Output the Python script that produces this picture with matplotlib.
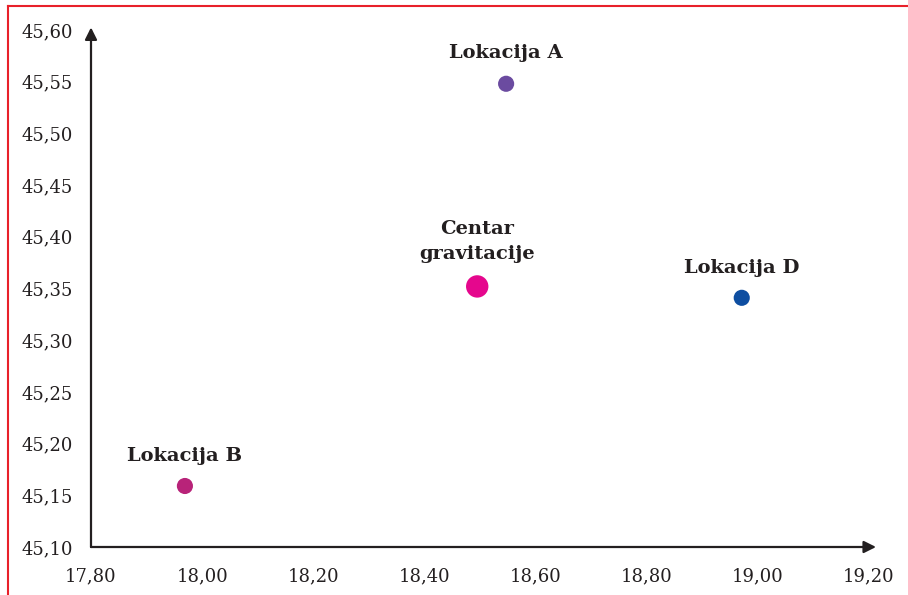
import matplotlib.pyplot as plt
from matplotlib.lines import Line2D
from matplotlib.ticker import FuncFormatter, MultipleLocator

# lokacije (geografska dužina, širina)
names = ["Lokacija A", "Lokacija B", "Lokacija D", "Centar\ngravitacije"]
lon = [18.547, 17.969, 18.971, 18.495]
lat = [45.548, 45.159, 45.341, 45.352]
colors = ["#6B4BA0", "#B82379", "#0E4EA1", "#E5078D"]
sizes = [135, 135, 135, 260]
label_offset = [22.5, 21.5, 21.5, 32]

plt.rcParams['font.family'] = ['DejaVu Serif']

fig = plt.figure(figsize=(9.08, 5.95), dpi=100)
ax = fig.add_axes([91 / 908, 48 / 595, 778 / 908, 517 / 595])

for x, y, c, s, n, off in zip(lon, lat, colors, sizes, names, label_offset):
    ax.scatter(x, y, s=s, color=c, edgecolors='none', zorder=3)
    ax.annotate(n, (x, y), xytext=(0, off), textcoords='offset points',
                ha='center', va='center', fontsize=14, fontweight='bold',
                color='#231F20', linespacing=1.5)

ax.set_xlim(17.8, 19.2)
ax.set_ylim(45.1, 45.6)
ax.xaxis.set_major_locator(MultipleLocator(0.2))
ax.yaxis.set_major_locator(MultipleLocator(0.05))
ax.xaxis.set_major_formatter(FuncFormatter(lambda v, p: f"{v:.2f}".replace('.', ',')))
ax.yaxis.set_major_formatter(FuncFormatter(lambda v, p: f"{v:.2f}".replace('.', ',')))
ax.tick_params(axis='both', length=0, labelsize=13, colors='#231F20')
ax.tick_params(axis='x', pad=15)
ax.tick_params(axis='y', pad=13)

for sp in ax.spines.values():
    sp.set_visible(False)

# osi sa strelicama
arrow = dict(arrowstyle='-|>', color='#231F20', lw=1.6, mutation_scale=18,
             shrinkA=0, shrinkB=0)
ax.annotate('', xy=(1.009, 0), xytext=(0, 0), xycoords='axes fraction',
            arrowprops=arrow, annotation_clip=False)
ax.annotate('', xy=(0, 1.005), xytext=(0, 0), xycoords='axes fraction',
            arrowprops=arrow, annotation_clip=False)

# crveni okvir
fig.add_artist(Line2D([8 / 908, 1.0], [1 - 6 / 595, 1 - 6 / 595], color='#E8202A', lw=1.5))
fig.add_artist(Line2D([8 / 908, 8 / 908], [0, 1 - 6 / 595], color='#E8202A', lw=1.5))

fig.savefig('out.png', dpi=100)
